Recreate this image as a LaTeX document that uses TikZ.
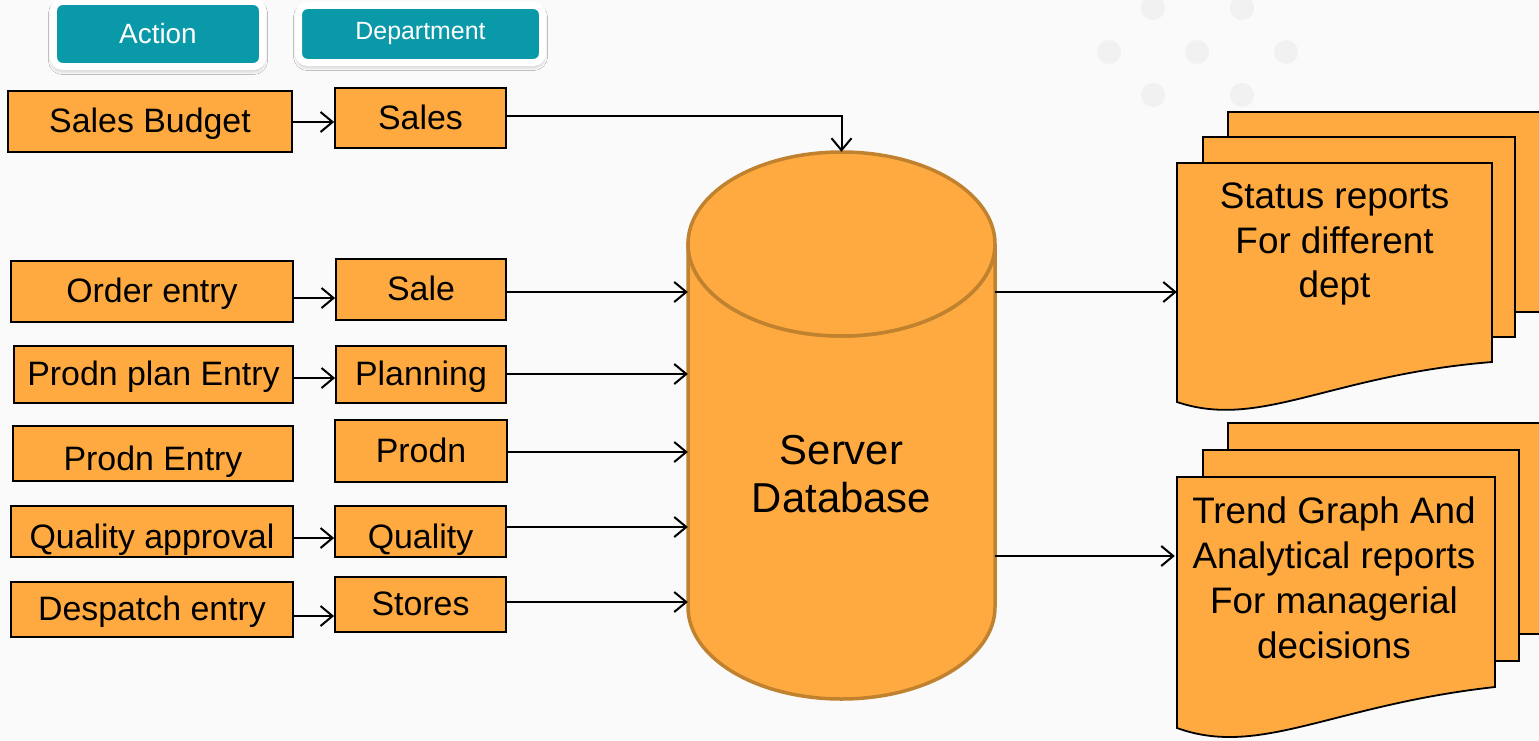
\documentclass[tikz,border=0pt]{standalone}
\usepackage{fontspec}
\setmainfont{Liberation Sans}
\usetikzlibrary{arrows.meta,shadows.blur}
\definecolor{boxorange}{HTML}{FFAA40}
\definecolor{dbedge}{HTML}{C0822F}
\definecolor{hdrteal}{HTML}{0A99A8}
\definecolor{bgcol}{HTML}{FAFAFA}
\definecolor{dotcol}{HTML}{F1F1F1}
\begin{document}
\begin{tikzpicture}[x=1bp,y=-1bp,>={Straight Barb[length=12bp,width=20bp]},line join=miter,
  entry/.style={draw=black,fill=boxorange,line width=1.8bp,inner sep=0pt,font=\fontsize{34}{38}\selectfont,
    text height=32pt,text depth=9pt},
  low/.style={text height=41.5pt,text depth=7.5pt},
  hdr/.style={fill=hdrteal,draw=white,line width=7bp,rounded corners=9bp,text=white,inner sep=0pt,
    blur shadow={shadow xshift=0bp,shadow yshift=-3bp,shadow blur radius=5bp,shadow opacity=35}},
  sheet/.style={draw=black,fill=boxorange,line width=1.8bp},
  dbshape/.style={draw=dbedge,fill=boxorange,line width=3.5bp},
  link/.style={->,line width=2bp}]
  \useasboundingbox (0,0) rectangle (1539,741);
  \fill[bgcol] (0,0) rectangle (1539,741);
  \foreach \x/\y in {1153/8,1242/8,1109/52,1197/52,1286/52,1153/95,1242/95}
    \fill[dotcol] (\x,\y) circle[radius=12bp];
%%
  % Node: headers
  \node[hdr,minimum width=209bp,minimum height=65bp,font=\fontsize{28}{32}\selectfont] (action) at (158,34) {Action};
  \node[hdr,minimum width=244bp,minimum height=57bp,font=\fontsize{25}{30}\selectfont] (dept) at (420.5,34) {Department};
  % Node: actions
  \node[entry,minimum width=284bp,minimum height=61bp] (budget) at (150,121.5) {Sales Budget};
  \node[entry,minimum width=282bp,minimum height=61bp] (order) at (152,291.5) {Order entry};
  \node[entry,minimum width=279bp,minimum height=57bp] (plan) at (153.5,374.5) {Prodn plan Entry};
  \node[entry,low,minimum width=280bp,minimum height=55bp] (prodentry) at (153,453.5) {Prodn Entry};
  \node[entry,low,minimum width=282bp,minimum height=51bp] (approval) at (152,531.5) {Quality approval};
  \node[entry,minimum width=282bp,minimum height=55bp] (despatch) at (152,609.5) {Despatch entry};
  % Node: departments
  \node[entry,minimum width=171bp,minimum height=60bp] (sales) at (420.5,118) {Sales};
  \node[entry,minimum width=170bp,minimum height=61bp] (sale) at (421,289.5) {Sale};
  \node[entry,minimum width=170bp,minimum height=57bp] (planning) at (421,374.5) {Planning};
  \node[entry,minimum width=172bp,minimum height=62bp] (prodn) at (421,451) {Prodn};
  \node[entry,low,minimum width=171bp,minimum height=51bp] (quality) at (420.5,531.5) {Quality};
  \node[entry,minimum width=171bp,minimum height=55bp] (stores) at (420.5,604.5) {Stores};
  % Node: database
  \filldraw[dbshape] (688,244) -- (688,607) arc[start angle=180,end angle=360,x radius=153.5bp,y radius=92bp]
    -- (995,244) arc[start angle=0,end angle=-180,x radius=153.5bp,y radius=92bp] -- cycle;
  \filldraw[dbshape] (841.5,244) ellipse [x radius=153.5bp,y radius=92bp];
  \node[minimum width=307bp,minimum height=548bp,inner sep=0pt] (db) at (841.5,426) {};
  \node[align=center,font=\fontsize{42}{49}\selectfont] (dblabel) at (841.5,474) {Server\\Database};
  % Node: status reports
  \filldraw[sheet] (1228,112) rectangle (1560,312);
  \filldraw[sheet] (1203,137) rectangle (1515,337);
  \filldraw[sheet] (1177,163) -- (1492,163) -- (1492,362) .. controls (1330,375) and (1260,430) .. (1177,402) -- cycle;
  \node[minimum width=315bp,inner sep=0pt,align=center,font=\fontsize{37}{45}\selectfont] (status) at (1334.5,244)
    {Status reports\\For different\\dept};
  % Node: trend reports
  \filldraw[sheet] (1228,423) rectangle (1560,634);
  \filldraw[sheet] (1203,450) rectangle (1519,661);
  \filldraw[sheet] (1177,477) -- (1495,477) -- (1495,687) .. controls (1332,705) and (1260,758) .. (1177,728) -- cycle;
  \node[minimum width=318bp,inner sep=0pt,align=center,font=\fontsize{37}{45}\selectfont] (trend) at (1334,578)
    {Trend Graph And\\Analytical reports\\For managerial\\decisions};
%%
  % Edge: action -> department
  \draw[link] (budget.east |- 0,122) -- (sales.west |- 0,122);
  \draw[link] (order.east |- 0,298) -- (sale.west |- 0,298);
  \draw[link] (plan.east |- 0,378) -- (planning.west |- 0,378);
  \draw[link] (approval.east |- 0,538) -- (quality.west |- 0,538);
  \draw[link] (despatch.east |- 0,616) -- (stores.west |- 0,616);
  % Edge: department -> db
  \draw[link] (sales.east |- 0,116) -| (db.north);
  \draw[link] (sale.east |- 0,292) -- (db.west |- 0,292);
  \draw[link] (planning.east |- 0,374) -- (db.west |- 0,374);
  \draw[link] (prodn.east |- 0,452) -- (db.west |- 0,452);
  \draw[link] (quality.east |- 0,527) -- (db.west |- 0,527);
  \draw[link] (stores.east |- 0,602) -- (db.west |- 0,602);
  % Edge: db -> reports
  \draw[link] (db.east |- 0,292) -- (status.west |- 0,292);
  \draw[link] (db.east |- 0,556) -- (trend.west |- 0,556);
%
\end{tikzpicture}
\end{document}
